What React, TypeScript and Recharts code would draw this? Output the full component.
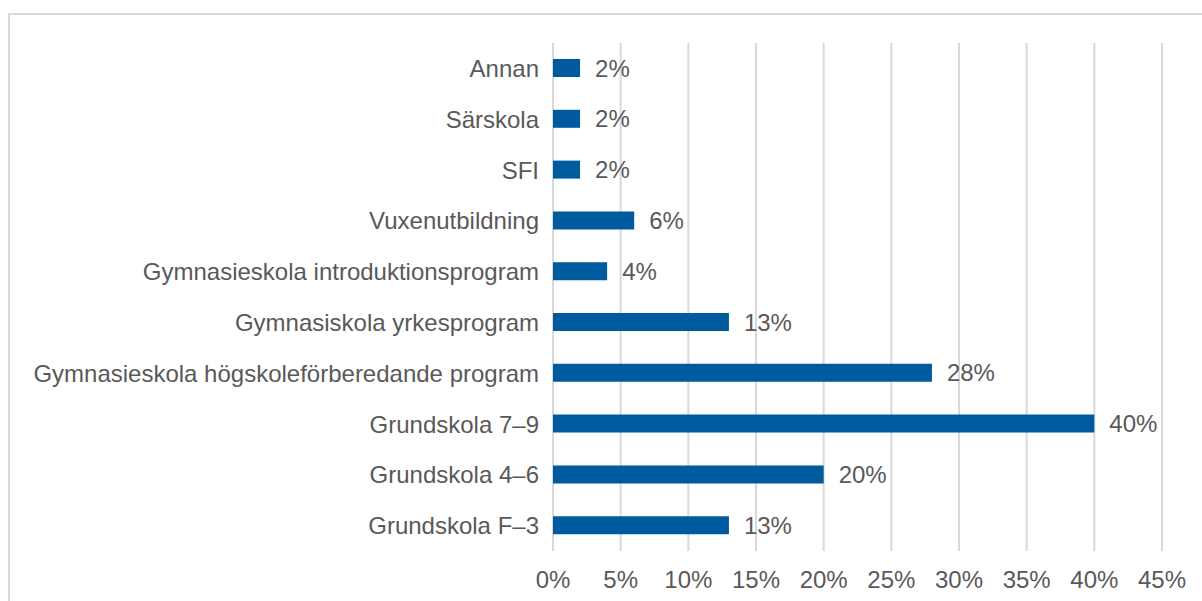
import React from 'react';
import { BarChart, Bar, XAxis, YAxis, CartesianGrid, LabelList } from 'recharts';

const categories = [
  'Annan',
  'Särskola',
  'SFI',
  'Vuxenutbildning',
  'Gymnasieskola introduktionsprogram',
  'Gymnasiskola yrkesprogram',
  'Gymnasieskola högskoleförberedande program',
  'Grundskola 7–9',
  'Grundskola 4–6',
  'Grundskola F–3',
];
const shares = [2, 2, 2, 6, 4, 13, 28, 40, 20, 13];
const xTicks = [0, 5, 10, 15, 20, 25, 30, 35, 40, 45];

const FONT = '"Liberation Sans", Arial, sans-serif';
const TEXT = '#595959';

const App = () => {
  const data = categories.map((name, i) => ({ name, value: shares[i] }));
  const pct = (v: number) => `${v}%`;

  return (
    <div style={{ position: 'absolute', left: 0, top: 0, width: 1202, height: 601, overflow: 'hidden', background: '#fff' }}>
      <div
        style={{
          position: 'absolute',
          left: 8,
          top: 13,
          width: 1300,
          height: 700,
          borderLeft: '2px solid #d9d9d9',
          borderTop: '2px solid #d9d9d9',
        }}
      />
      <div style={{ position: 'absolute', left: 0, top: 0 }}>
        <BarChart
          width={1202}
          height={601}
          data={data}
          layout="vertical"
          margin={{ top: 43, right: 40, bottom: 0, left: 0 }}
          barCategoryGap={0}
        >
          <CartesianGrid horizontal={false} stroke="#d9d9d9" strokeWidth={2} />
          <XAxis
            type="number"
            domain={[0, 45]}
            ticks={xTicks}
            tickFormatter={pct}
            axisLine={false}
            tickLine={false}
            tickSize={0}
            tickMargin={20}
            interval={0}
            height={50}
            tick={{ fill: TEXT, fontSize: 24, fontFamily: FONT }}
          />
          <YAxis
            type="category"
            dataKey="name"
            width={553}
            axisLine={false}
            tickLine={false}
            tickSize={0}
            tickMargin={14}
            interval={0}
            tick={{ fill: TEXT, fontSize: 24, fontFamily: FONT }}
          />
          <Bar dataKey="value" fill="#005a9e" barSize={18} isAnimationActive={false}>
            <LabelList
              dataKey="value"
              position="right"
              offset={15}
              formatter={(v: any) => `${v}%`}
              style={{ fill: TEXT, fontSize: 24, fontFamily: FONT }}
            />
          </Bar>
        </BarChart>
      </div>
    </div>
  );
};

export default App;
